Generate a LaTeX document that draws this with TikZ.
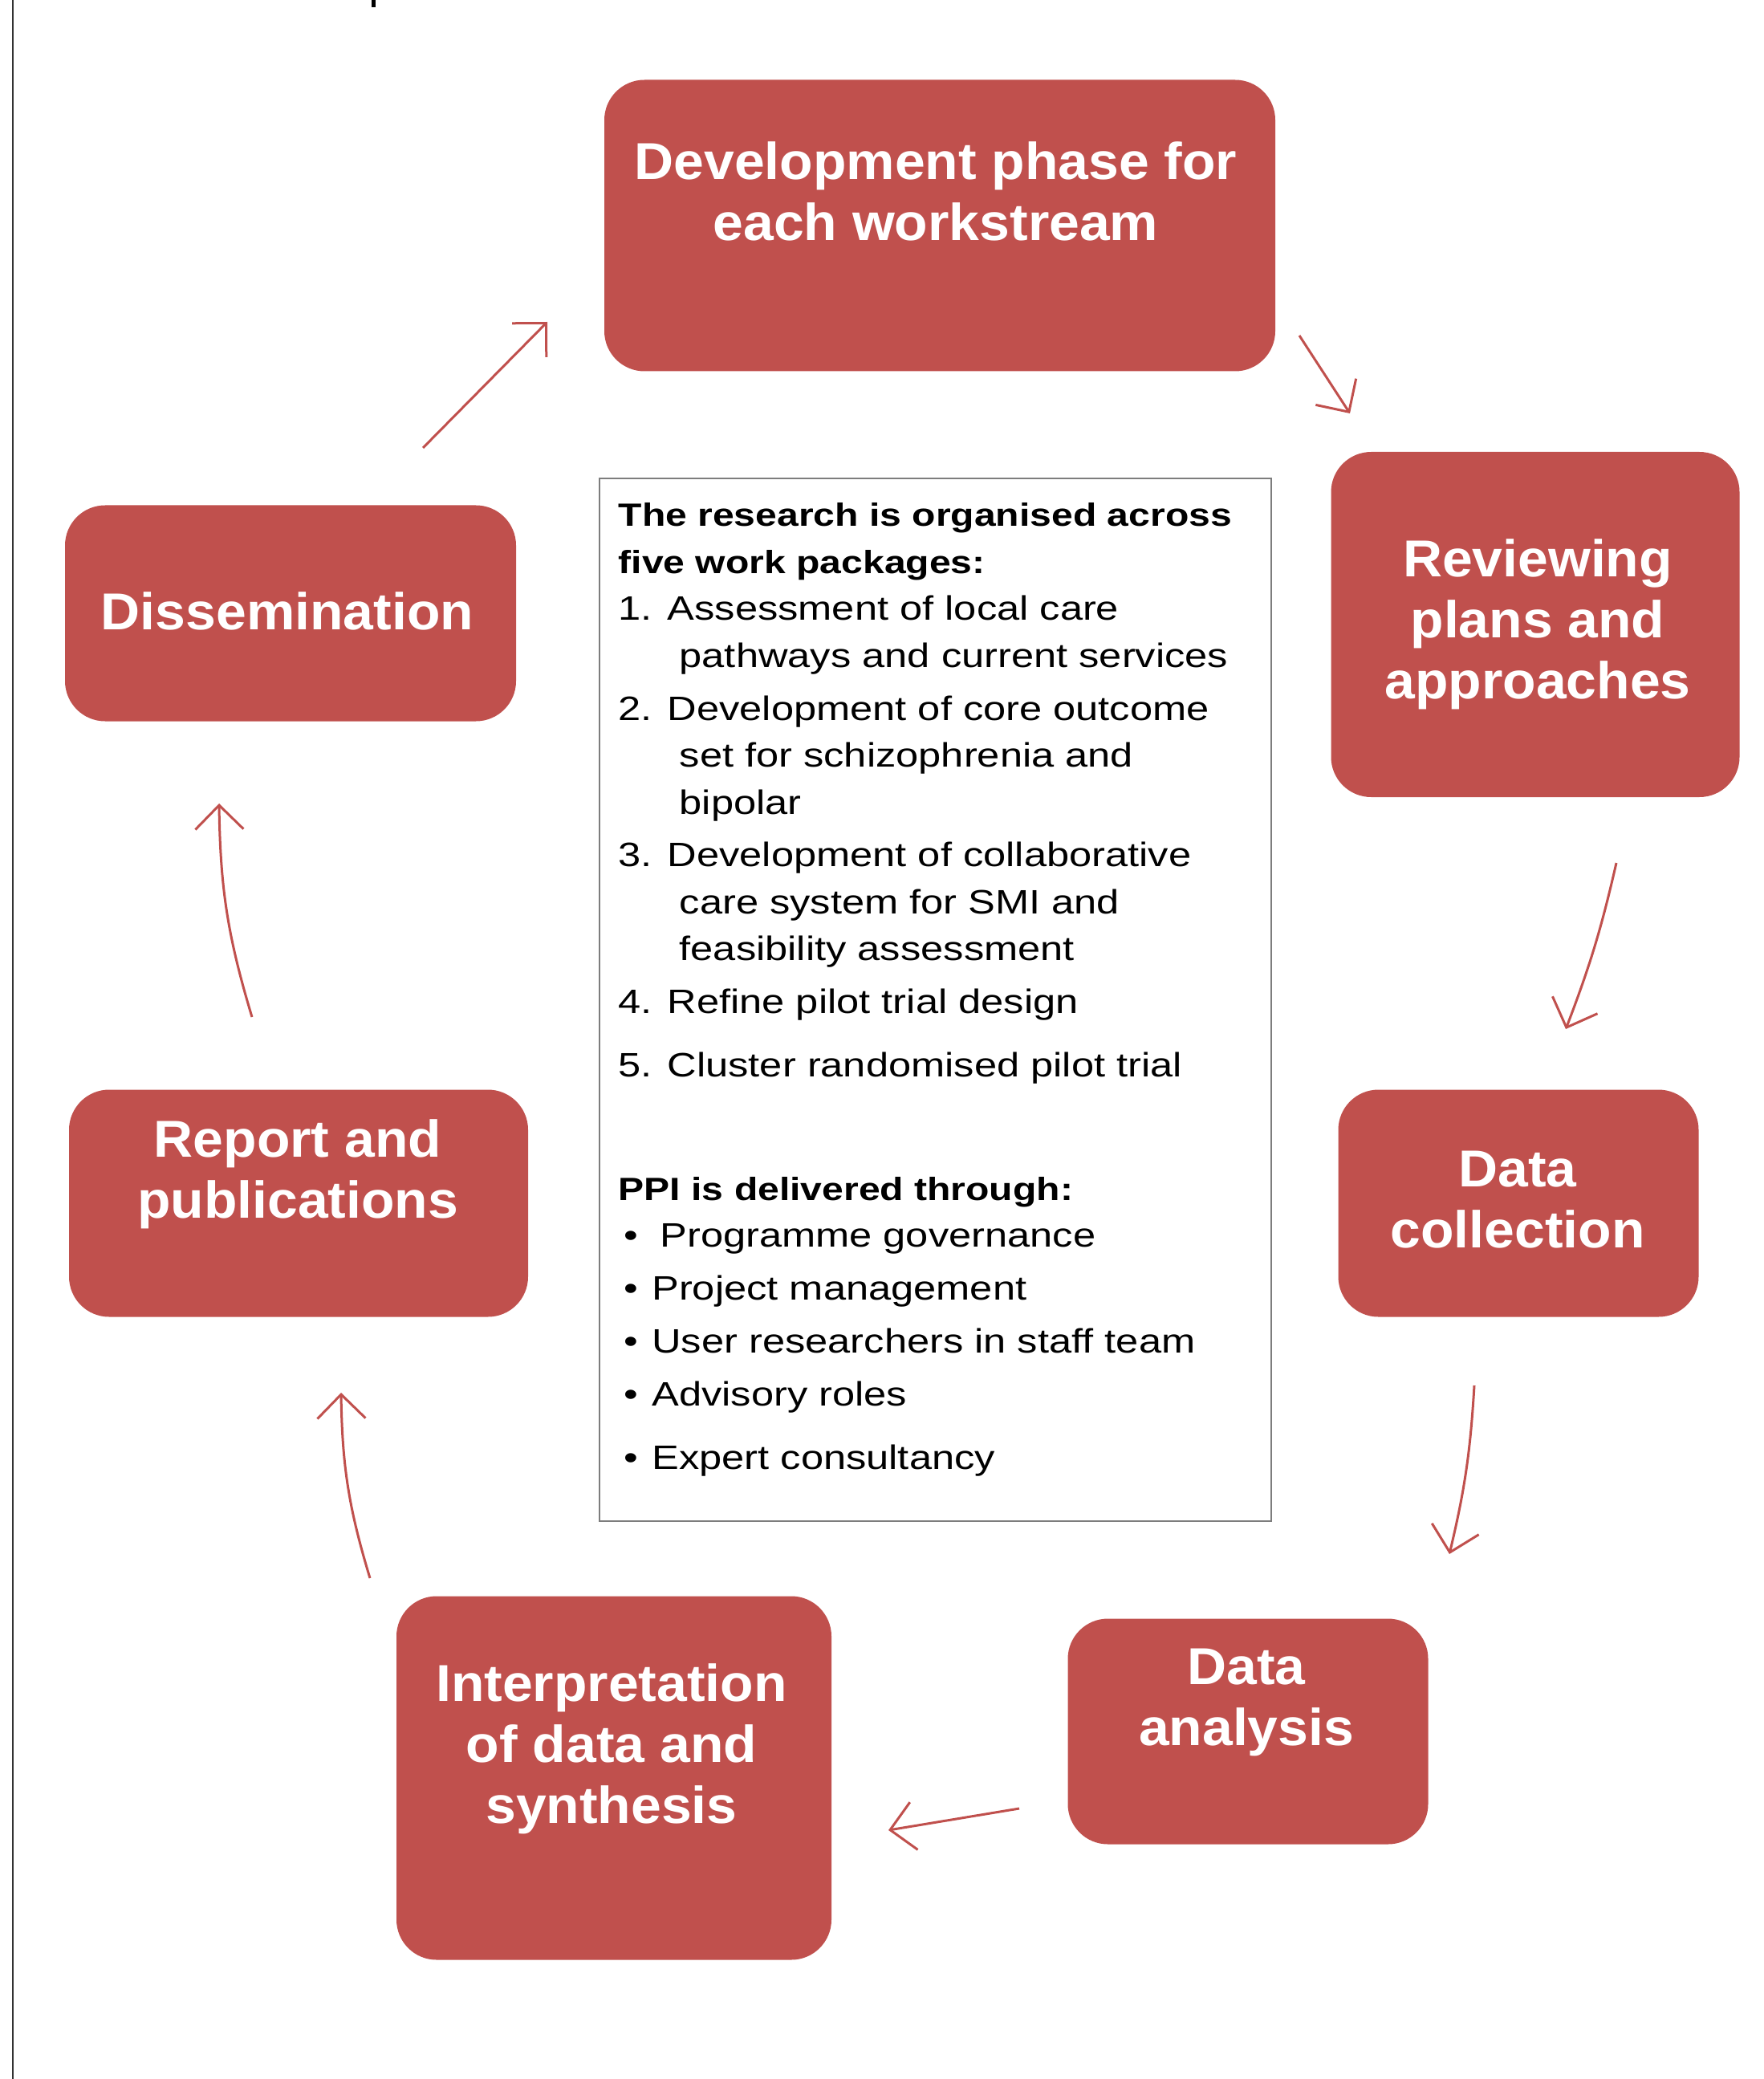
\documentclass[tikz,border=0pt]{standalone}
\usepackage{fontspec}
\setmainfont{Liberation Sans}[FakeStretch=1.2]
\newfontfamily\stagefont{Liberation Sans}[FakeStretch=1.05]
\usetikzlibrary{arrows.meta}
\definecolor{stagered}{RGB}{192,80,77}
\definecolor{framegray}{RGB}{125,125,125}
\newcommand{\wphead}[1]{{\bfseries\fontsize{11.4}{16.64}\selectfont #1}}
\tikzset{
  stage/.style={fill=stagered, draw=none, rounded corners=0.5cm, inner sep=0},
  stagetext/.style={text=white, align=center, inner sep=0,
    font=\stagefont\bfseries\fontsize{18.4}{21.6}\selectfont},
  cyc/.style={draw=stagered, line width=0.03cm,
    -{Straight Barb[length=0.3cm,width=0.6cm]}},
}
\begin{document}
\begin{tikzpicture}
   \useasboundingbox (0,0) rectangle (21.97,-25.90);
   \draw[line width=0.02cm, color=black!80] (0.16,0) -- (0.16,-25.90);
   \draw[line width=0.05cm] (4.65,0) -- (4.65,-0.09);

   \node[stage, minimum width=8.36cm, minimum height=3.63cm] (dev) at (11.71,-2.81) {};
   \node[stagetext] (devtxt) at (11.66,-2.38) {Development phase for\\each workstream};
   \node[stage, minimum width=5.09cm, minimum height=4.30cm] (rev) at (19.13,-7.78) {};
   \node[stagetext] (revtxt) at (19.16,-7.78) {Reviewing\\plans and\\approaches};
   \node[stage, minimum width=4.49cm, minimum height=2.83cm] (coll) at (18.92,-14.99) {};
   \node[stagetext] (colltxt) at (18.91,-14.95) {Data\\collection};
   \node[stage, minimum width=4.49cm, minimum height=2.81cm] (ana) at (15.55,-21.57) {};
   \node[stagetext] (anatxt) at (15.53,-21.21) {Data\\analysis};
   \node[stage, minimum width=5.42cm, minimum height=4.53cm] (interp) at (7.65,-22.15) {};
   \node[stagetext] (interptxt) at (7.62,-21.79) {Interpretation\\of data and\\synthesis};
   \node[stage, minimum width=5.72cm, minimum height=2.83cm] (report) at (3.72,-14.99) {};
   \node[stagetext] (reporttxt) at (3.71,-14.63) {Report and\\publications};
   \node[stage, minimum width=5.62cm, minimum height=2.69cm] (diss) at (3.62,-7.64) {};
   \node[stagetext] (disstxt) at (3.58,-7.61) {Dissemination};

   \draw[draw=framegray, line width=0.015cm] (7.47,-5.96) rectangle (15.84,-18.95);
   \node[anchor=north west, inner sep=0, align=left,
     font=\fontsize{12}{16.64}\selectfont] (wp) at (7.70,-6.26)
   {\wphead{The research is organised across}\\
    \wphead{five work packages:}\\
    1. Assessment of local care\\
    \hspace*{0.76cm}pathways and current services\\[2.1pt]
    2. Development of core outcome\\
    \hspace*{0.76cm}set for schizophrenia and\\
    \hspace*{0.76cm}bipolar\\[2.1pt]
    3. Development of collaborative\\
    \hspace*{0.76cm}care system for SMI and\\
    \hspace*{0.76cm}feasibility assessment\\[2.1pt]
    4. Refine pilot trial design\\[5.9pt]
    5. Cluster randomised pilot trial\\[27pt]
    \wphead{PPI is delivered through:}\\
    \hspace*{0.07cm}\textbullet\hspace{0.27cm}Programme governance\\[2.1pt]
    \hspace*{0.07cm}\textbullet\hspace{0.17cm}Project management\\[2.1pt]
    \hspace*{0.07cm}\textbullet\hspace{0.17cm}User researchers in staff team\\[2.1pt]
    \hspace*{0.07cm}\textbullet\hspace{0.17cm}Advisory roles\\[5.9pt]
    \hspace*{0.07cm}\textbullet\hspace{0.17cm}Expert consultancy};

   \coordinate (a1s) at (5.27,-5.58);   \coordinate (a1e) at (6.82,-4.01);
   \coordinate (a2s) at (16.19,-4.18);  \coordinate (a2e) at (16.82,-5.15);
   \coordinate (a3s) at (20.14,-10.75); \coordinate (a3e) at (19.51,-12.82);
   \coordinate (a4s) at (18.37,-17.26); \coordinate (a4e) at (18.06,-19.36);
   \coordinate (a5s) at (12.70,-22.53); \coordinate (a5e) at (11.07,-22.80);
   \coordinate (a6s) at (4.61,-19.66);  \coordinate (a6e) at (4.25,-17.35);
   \coordinate (a7s) at (3.14,-12.67);  \coordinate (a7e) at (2.73,-10.01);
   \draw[cyc] (a1s) -- (a1e);
   \draw[cyc] (a2s) -- (a2e);
   \draw[cyc] (a3s) to[bend left=4] (a3e);
   \draw[cyc] (a4s) to[bend left=5] (a4e);
   \draw[cyc] (a5s) -- (a5e);
   \draw[cyc] (a6s) to[bend left=8] (a6e);
   \draw[cyc] (a7s) to[bend left=8] (a7e);
 \end{tikzpicture}
\end{document}
